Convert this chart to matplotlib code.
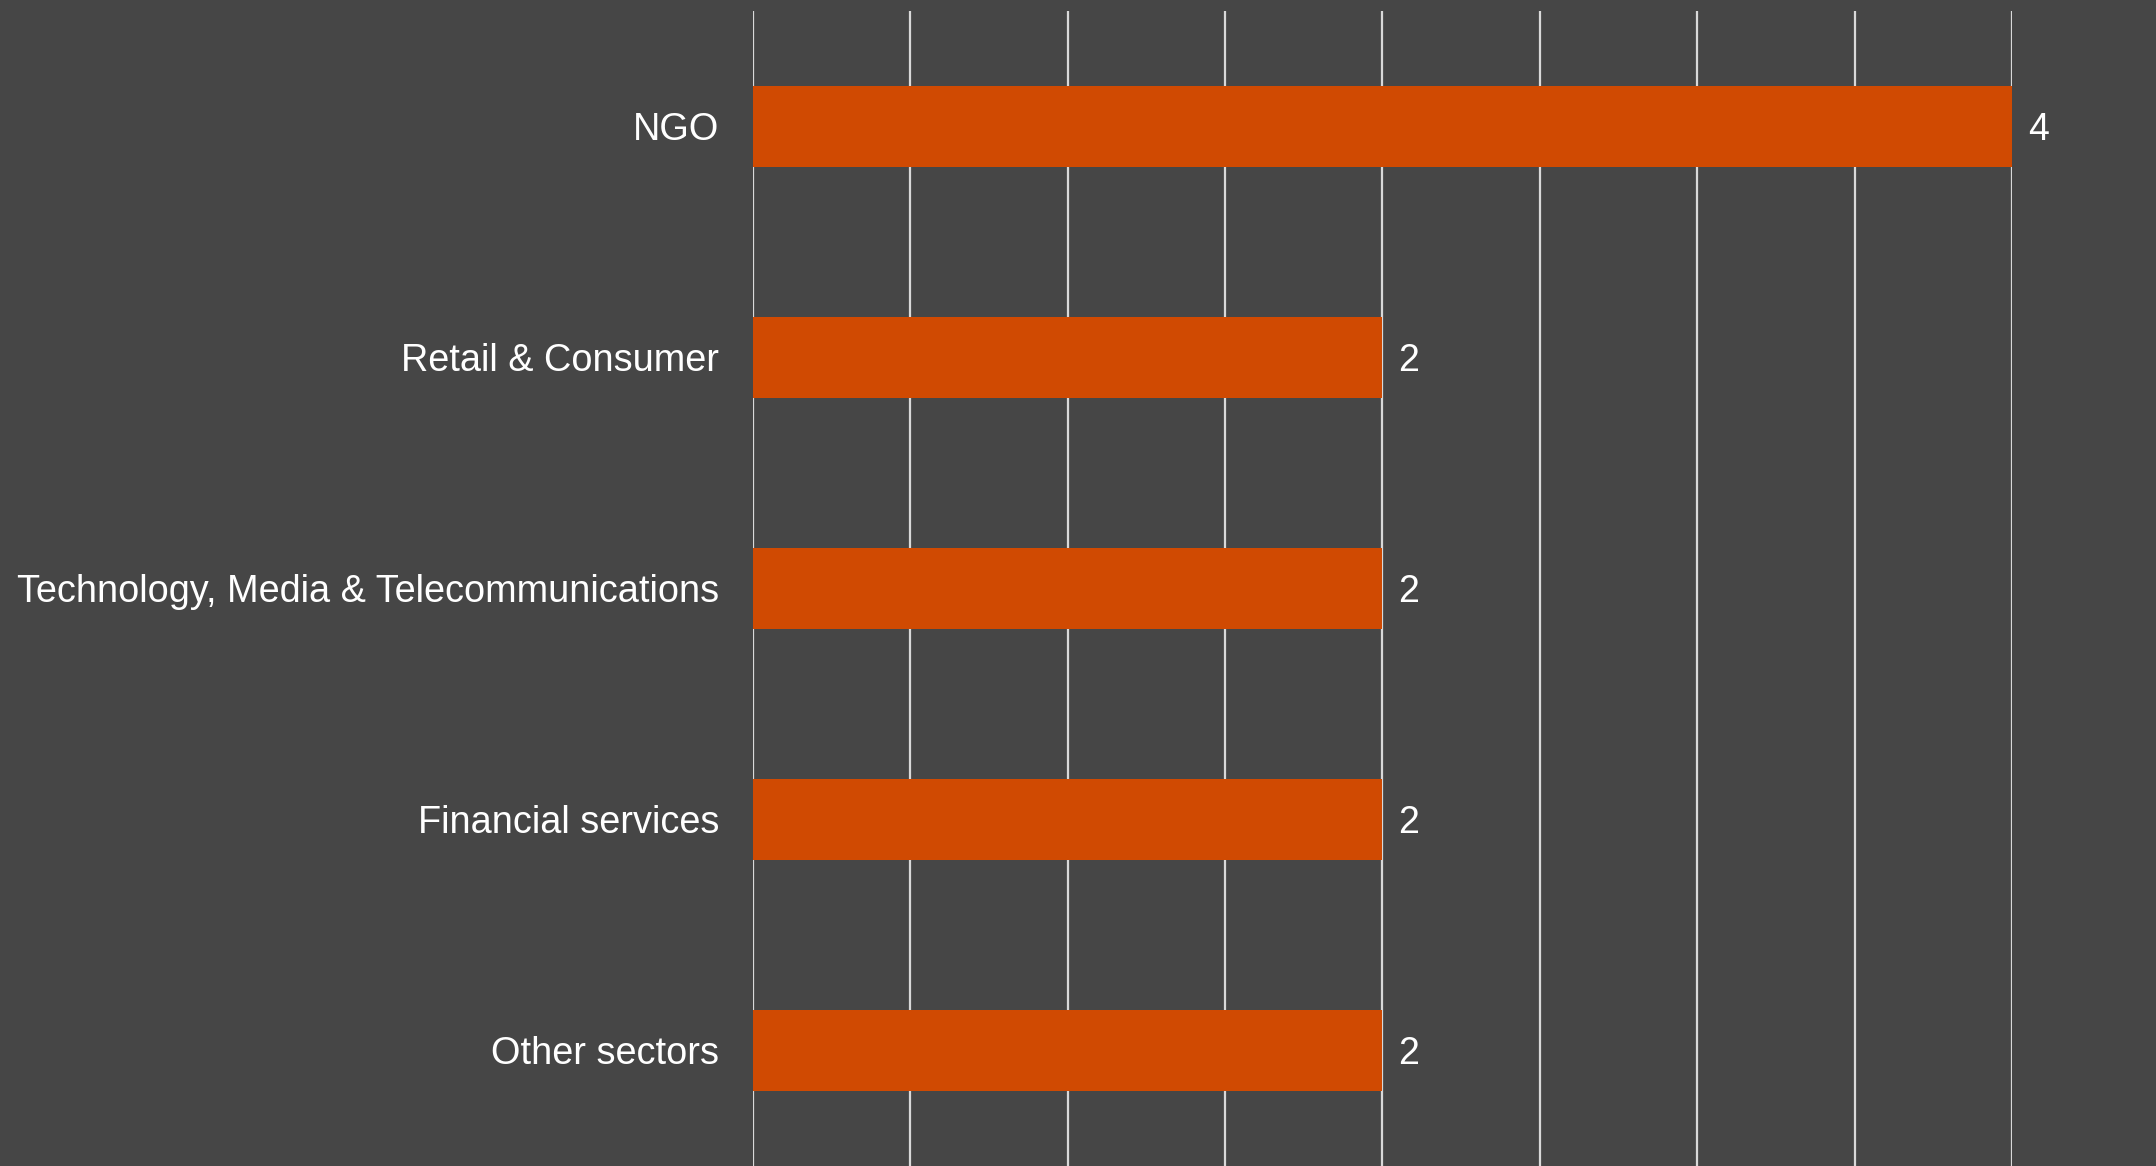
import matplotlib.pyplot as plt

categories = ['NGO', 'Retail & Consumer', 'Technology, Media & Telecommunications',
              'Financial services', 'Other sectors']
values = [4, 2, 2, 2, 2]

bg = '#464646'
bar_color = '#D04A02'

plt.rcParams['font.family'] = ['Liberation Sans', 'DejaVu Sans']

fig = plt.figure(figsize=(21.56, 11.66), dpi=100, facecolor=bg)
ax = fig.add_axes([0.3491, 0.0, 0.9333 - 0.3491, 0.9906])
ax.set_facecolor(bg)

pos = list(range(len(categories)))[::-1]
ax.barh(pos, values, height=0.35, color=bar_color, zorder=3)

for y, v in zip(pos, values):
    ax.text(v + 0.05, y, str(v), va='center_baseline', ha='left', color='white',
            fontsize=27, clip_on=False)

ax.set_xlim(0, 4)
ax.set_ylim(-0.5, 4.5)
ax.set_xticks([i * 0.5 for i in range(9)])
ax.grid(axis='x', color='#d9d9d9', linewidth=1.6, zorder=0)
ax.set_yticks(pos)
ax.set_yticklabels(categories, color='white', fontsize=27.3)
for lbl in ax.get_yticklabels():
    lbl.set_verticalalignment('center_baseline')
ax.tick_params(axis='y', length=0, pad=24)
ax.tick_params(axis='x', length=0, labelbottom=False)
for s in ax.spines.values():
    s.set_visible(False)

fig.savefig('out.png', dpi=100, facecolor=bg)
